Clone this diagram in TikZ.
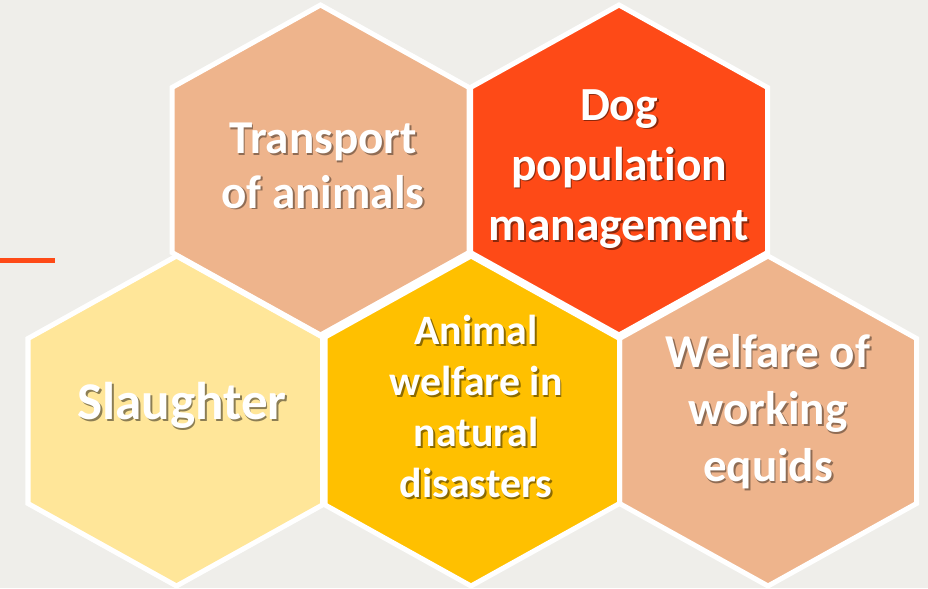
\documentclass[tikz,border=0pt]{standalone}
\usepackage{fontspec}
\setmainfont{Carlito}[Ligatures = CommonOff]
\usepackage{tikz}
\usetikzlibrary{calc}

\definecolor{paper}{HTML}{EFEEEA}
\definecolor{peach}{HTML}{EEB48C}
\definecolor{dogred}{HTML}{FE4A17}
\definecolor{pale}{HTML}{FFE699}
\definecolor{amber}{HTML}{FFC000}

% white text with a soft shadow under it
\newcommand\shadowlines[2]{%
  \makebox[0pt][l]{\kern0.5pt\raisebox{-0.5pt}{\color{#1}\begin{tabular}{@{}c@{}}#2\end{tabular}}}%
  \begin{tabular}{@{}c@{}}#2\end{tabular}}

\begin{document}
\begin{tikzpicture}
[x = 0.01cm, y = -0.01cm]
\tikzset{
	hex fill/.style = {fill = #1},
	hex edge/.style = {draw = white, line width = 0.05cm, line join = miter},
	hex label/.style = {text = white, inner sep = 0, font = \bfseries},
}

\fill[paper] (0,0) rectangle (928,588);
\useasboundingbox (0,0) rectangle (928,588);

\foreach \cx/\cy/\col in {320.5/170/peach, 619/170/dogred, 176.5/421/pale, 471/421/amber, 768/421/peach}
	\fill[hex fill = \col, shift = {(\cx,\cy)}]
		(0,-165) -- (148.5,-82.5) -- (148.5,82.5) -- (0,165) -- (-148.5,82.5) -- (-148.5,-82.5) -- cycle;
\foreach \cx/\cy in {320.5/170, 619/170, 176.5/421, 471/421, 768/421}
	\draw[hex edge, shift = {(\cx,\cy)}]
		(0,-165) -- (148.5,-82.5) -- (148.5,82.5) -- (0,165) -- (-148.5,82.5) -- (-148.5,-82.5) -- cycle;

\draw[dogred, line width = 0.05cm] (0,260.5) -- (55,260.5);

\node(transport)[hex label] at (323,171)
	{\fontsize{13.4}{15.4}\selectfont\shadowlines{peach!60!black}{Transport\\of animals}};
\node(dog)[hex label] at (619,169)
	{\fontsize{13.5}{17.1}\selectfont\shadowlines{dogred!55!black}{Dog\\population\\management}};
\node(slaughter)[hex label] at (182,408)
	{\fontsize{15.1}{18}\selectfont\shadowlines{pale!55!black}{Slaughter}};
\node(disasters)[hex label] at (476,412)
	{\fontsize{11.9}{14.5}\selectfont\shadowlines{amber!55!black}{Animal\\welfare in\\natural\\disasters}};
\node(equids)[hex label] at (768,414)
	{\fontsize{13.4}{16.2}\selectfont\shadowlines{peach!60!black}{Welfare of\\working\\equids}};

\end{tikzpicture}
\end{document}
